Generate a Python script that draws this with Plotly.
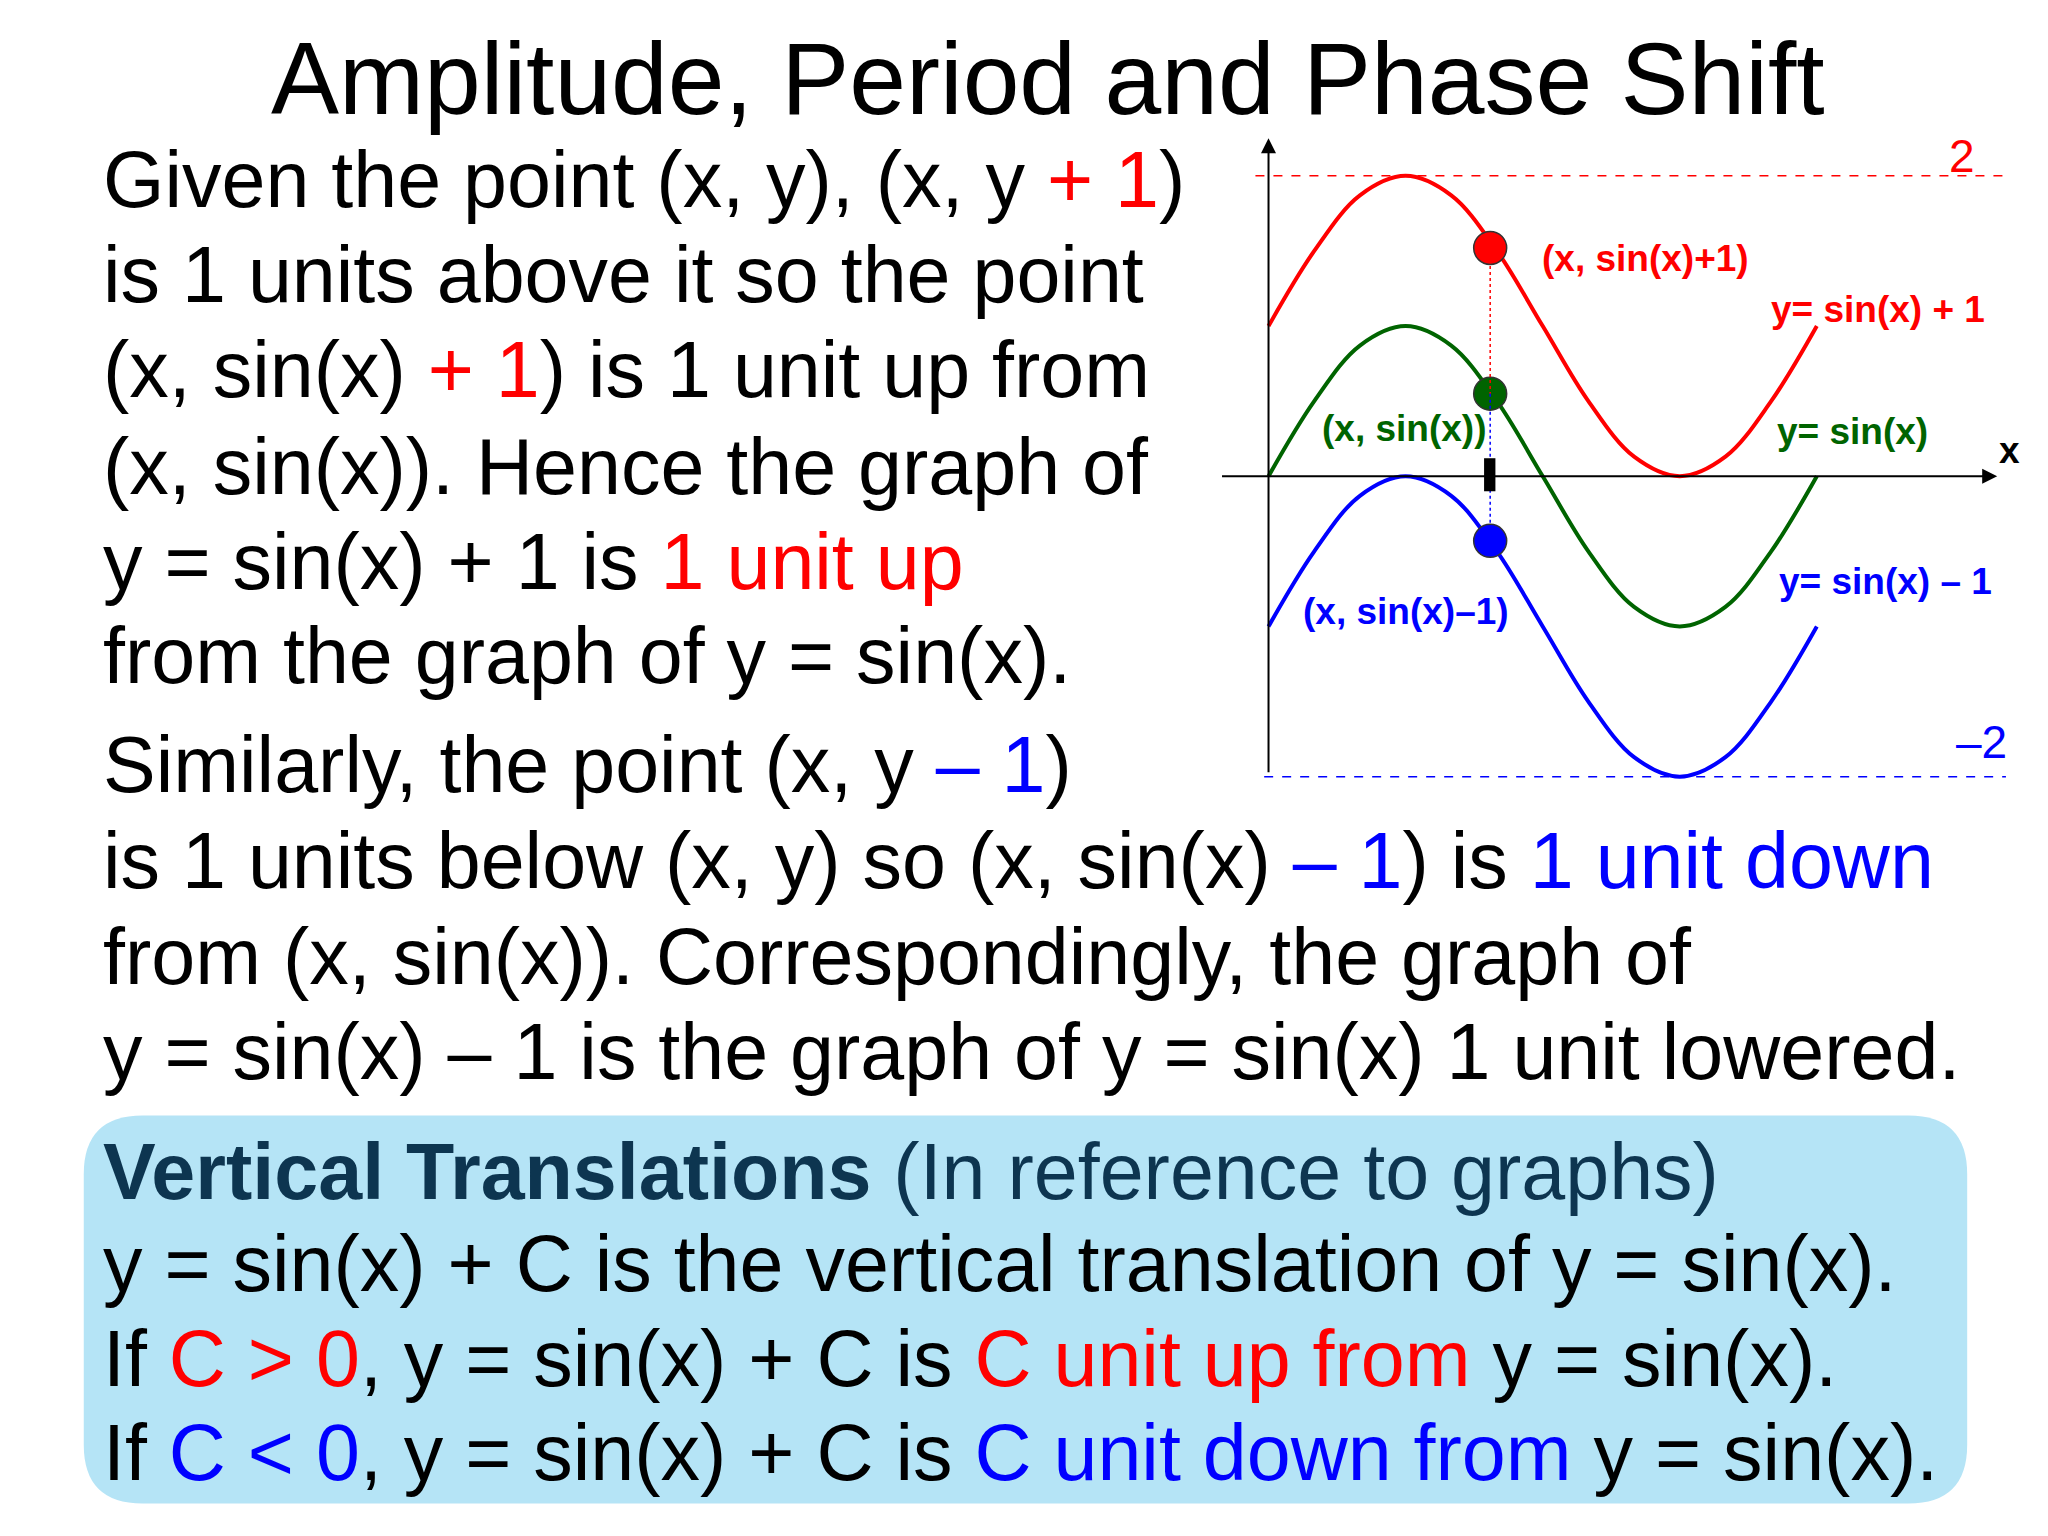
import plotly.graph_objects as go

# readings of the three curves at steps of pi/6 (x in radians)
xs = [0, 0.524, 1.047, 1.571, 2.094, 2.618, 3.142, 3.665, 4.189, 4.712, 5.236, 5.760, 6.283]
y_base = [0, 0.5, 0.87, 1.0, 0.87, 0.5, 0, -0.5, -0.87, -1.0, -0.87, -0.5, 0]
y_up = [1.0, 1.5, 1.87, 2.0, 1.87, 1.5, 1.0, 0.5, 0.13, 0.0, 0.13, 0.5, 1.0]
y_down = [-1.0, -0.5, -0.13, 0.0, -0.13, -0.5, -1.0, -1.5, -1.87, -2.0, -1.87, -1.5, -1.0]

dot_x = 2.54
dot_y = [1.52, 0.55, -0.43]
dot_colors = ["#ff0000", "#006400", "#0000ff"]

RED = "#ff0000"
GREEN = "#006400"
BLUE = "#0000ff"
FONT = "Liberation Sans, Arial, sans-serif"

fig = go.Figure()
for ys, c in [(y_up, RED), (y_base, GREEN), (y_down, BLUE)]:
    fig.add_trace(go.Scatter(x=xs, y=ys, mode="lines", line=dict(color=c, width=4, shape="spline"),
                             showlegend=False, hoverinfo="skip"))
fig.add_trace(go.Scatter(x=[dot_x] * 3, y=dot_y, mode="markers",
                         marker=dict(color=dot_colors, size=33, line=dict(color="#333", width=1.5)),
                         showlegend=False, hoverinfo="skip"))

shapes = [
    dict(type="line", x0=-0.15, x1=8.45, y0=2, y1=2, line=dict(color=RED, width=1.5, dash="dash")),
    dict(type="line", x0=-0.05, x1=8.45, y0=-2, y1=-2, line=dict(color=BLUE, width=1.5, dash="dash")),
    dict(type="line", x0=dot_x, x1=dot_x, y0=dot_y[0], y1=dot_y[1], line=dict(color=RED, width=1.5, dash="dot")),
    dict(type="line", x0=dot_x, x1=dot_x, y0=dot_y[1], y1=dot_y[2], line=dict(color=BLUE, width=1.5, dash="dot")),
    dict(type="rect", x0=2.47, x1=2.6, y0=-0.1, y1=0.12, fillcolor="black", line=dict(width=0)),
]

# rounded blue box (paper coords)
x0, x1, y0, y1 = 58 / 1568, 1500 / 1568, 1 - 1145 / 1176, 1 - 848 / 1176
rx, ry = 45 / 1568, 45 / 1176
path = (f"M {x0+rx},{y0} L {x1-rx},{y0} Q {x1},{y0} {x1},{y0+ry} L {x1},{y1-ry} Q {x1},{y1} {x1-rx},{y1} "
        f"L {x0+rx},{y1} Q {x0},{y1} {x0},{y1-ry} L {x0},{y0+ry} Q {x0},{y0} {x0+rx},{y0} Z")
shapes.append(dict(type="path", path=path, xref="paper", yref="paper", fillcolor="#b5e4f6",
                   line=dict(width=0), layer="below"))

ann = []
# axes arrows
ann.append(dict(x=8.35, y=0, ax=-0.55, ay=0, xref="x", yref="y", axref="x", ayref="y",
                showarrow=True, arrowhead=2, arrowsize=1.5, arrowwidth=2, arrowcolor="black", text=""))
ann.append(dict(x=0, y=2.25, ax=0, ay=-1.98, xref="x", yref="y", axref="x", ayref="y",
                showarrow=True, arrowhead=2, arrowsize=1.5, arrowwidth=2, arrowcolor="black", text=""))


def lab(x, y, t, c, anchor="left", size=37, bold=True):
    ann.append(dict(x=x, y=y, xref="x", yref="y", text=f"<b>{t}</b>" if bold else t, showarrow=False,
                    xanchor=anchor, font=dict(color=c, size=size, family=FONT)))


lab(3.11, 1.45, "(x, sin(x)+1)", RED)
lab(5.73, 1.11, "y= sin(x) + 1", RED)
lab(2.51, 0.32, "(x, sin(x))", GREEN, anchor="right")
lab(5.80, 0.30, "y= sin(x)", GREEN)
lab(8.35, 0.17, "x", "black")
lab(0.37, -0.90, "(x, sin(x)–1)", BLUE)
lab(5.83, -0.70, "y= sin(x) – 1", BLUE)
lab(7.78, 2.13, "2", RED, size=46, bold=False)
lab(7.85, -1.77, "–2", BLUE, size=46, bold=False)


def r(t):
    return f"<span style='color:{RED}'>{t}</span>"


def b(t):
    return f"<span style='color:{BLUE}'>{t}</span>"


lines = [
    (135, f"Given the point (x, y), (x, y {r('+ 1')})"),
    (208, "is 1 units above it so the point"),
    (281, f"(x, sin(x) {r('+ 1')}) is 1 unit up from"),
    (355, "(x, sin(x)). Hence the graph of"),
    (428, f"y = sin(x) + 1 is {r('1 unit up')}"),
    (500, "from the graph of y = sin(x)."),
    (583, f"Similarly, the point (x, y {b('– 1')})"),
    (657, f"is 1 units below (x, y) so (x, sin(x) {b('– 1')}) is {b('1 unit down')}"),
    (730, "from (x, sin(x)). Correspondingly, the graph of"),
    (803, "y = sin(x) – 1 is the graph of y = sin(x) 1 unit lowered."),
    (895, "<span style='color:#0d3550'><b>Vertical Translations</b> (In reference to graphs)</span>"),
    (965, "y = sin(x) + C is the vertical translation of y = sin(x)."),
    (1038, f"If {r('C > 0')}, y = sin(x) + C is {r('C unit up from')} y = sin(x)."),
    (1110, f"If {b('C < 0')}, y = sin(x) + C is {b('C unit down from')} y = sin(x)."),
]
for yy, t in lines:
    ann.append(dict(x=71 / 1568, y=1 - (yy - 4) / 1176, xref="paper", yref="paper", text=t, showarrow=False,
                    xanchor="left", yanchor="middle", font=dict(size=79, color="black", family=FONT)))
ann.append(dict(x=0.508, y=1 - 54 / 1176, xref="paper", yref="paper", text="Amplitude, Period and Phase Shift",
                showarrow=False, xanchor="center", yanchor="middle",
                font=dict(size=102, color="black", family=FONT)))

fig.update_layout(
    width=2048, height=1536, margin=dict(l=0, r=0, t=0, b=0),
    plot_bgcolor="white", paper_bgcolor="white",
    xaxis=dict(domain=[925 / 1568, 1533 / 1568], range=[-0.6, 8.5], visible=False),
    yaxis=dict(domain=[1 - 600 / 1176, 1 - 82.5 / 1176], range=[-2.1, 2.4], visible=False),
    shapes=shapes, annotations=ann,
)
fig.write_html("out.html")
